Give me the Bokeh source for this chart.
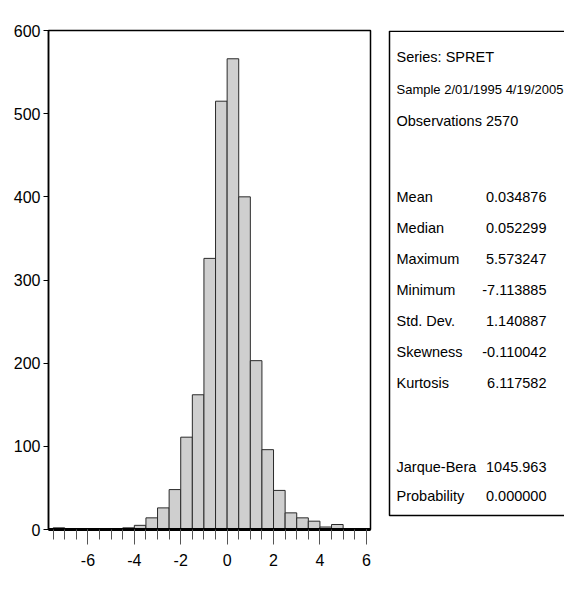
from bokeh.plotting import figure
from bokeh.layouts import row
from bokeh.models import Range1d, FixedTicker, ColumnDataSource
from bokeh.core.properties import value
from bokeh.embed import file_html
from bokeh.resources import INLINE

# ---- data ----
bin_left = [-7.5, -7.0, -6.5, -6.0, -5.5, -5.0, -4.5, -4.0, -3.5, -3.0, -2.5, -2.0, -1.5,
            -1.0, -0.5, 0.0, 0.5, 1.0, 1.5, 2.0, 2.5, 3.0, 3.5, 4.0, 4.5, 5.0, 5.5]
bin_width = 0.5
counts = [2, 0, 1, 0, 1, 0, 2, 5, 14, 26, 48, 111, 162,
          326, 515, 566, 400, 203, 96, 47, 20, 14, 10, 3, 6, 1, 1]
x_ticks = [-6, -4, -2, 0, 2, 4, 6]
x_tick_labels = ["-6", "-4", "-2", "0", "2", "4", "6"]
y_ticks = [0, 100, 200, 300, 400, 500, 600]

header_lines = ["Series: SPRET", "Sample 2/01/1995 4/19/2005", "Observations 2570"]
stat_names = ["Mean", "Median", "Maximum", "Minimum", "Std. Dev.", "Skewness", "Kurtosis"]
stat_values = ["0.034876", "0.052299", "5.573247", "-7.113885", "1.140887", "-0.110042", "6.117582"]
test_names = ["Jarque-Bera", "Probability"]
test_values = ["1045.963", "0.000000"]

FONT = "Liberation Sans"
AX_FS = "16px"
FS = "14.5px"

# ---- histogram ----
H = 601
W1 = 380
TOP, BOTTOM = 30, 72
p = figure(width=W1, height=H, output_backend="svg", toolbar_location=None,
           x_range=Range1d(-7.7, 6.18), y_range=Range1d(0, 600),
           min_border_left=48, min_border_right=10, min_border_top=TOP, min_border_bottom=BOTTOM)
src = ColumnDataSource(dict(left=bin_left,
                            right=[b + bin_width for b in bin_left],
                            top=counts,
                            bottom=[0] * len(counts)))
p.quad(left="left", right="right", top="top", bottom="bottom", source=src,
       fill_color="#cfcfcf", line_color="#2a2a2a", line_width=1)

p.xgrid.visible = False
p.ygrid.visible = False
p.background_fill_color = "white"
p.border_fill_color = "white"
p.outline_line_color = "black"
p.outline_line_width = 1.5

p.xaxis.ticker = FixedTicker(ticks=x_ticks, minor_ticks=[b for b in bin_left] + [6.0])
p.xaxis.major_label_overrides = dict(zip(x_ticks, x_tick_labels))
p.yaxis.ticker = FixedTicker(ticks=y_ticks, minor_ticks=[])
for ax in (p.xaxis, p.yaxis):
    ax.major_label_text_font = FONT
    ax.major_label_text_font_size = AX_FS
    ax.major_label_text_color = "black"
    ax.major_tick_in = 0
    ax.minor_tick_in = 0
    ax.axis_line_color = "black"
p.xaxis.axis_line_width = 3
p.xaxis.major_tick_out = 15
p.xaxis.minor_tick_out = 10
p.xaxis.major_tick_line_color = "#555555"
p.xaxis.minor_tick_line_color = "#555555"
p.xaxis.major_label_standoff = 9
p.yaxis.axis_line_width = 1.5
p.yaxis.major_tick_out = 5
p.yaxis.minor_tick_out = 0
p.yaxis.major_label_standoff = 3

# ---- statistics box (its frame is aligned with the histogram frame by the row) ----
W2 = 564 - W1
q = figure(width=W2, height=H, output_backend="svg", toolbar_location=None,
           x_range=Range1d(0, W2), y_range=Range1d(H - BOTTOM, TOP),
           x_axis_type=None, y_axis_type=None,
           min_border_left=0, min_border_right=0, min_border_top=TOP, min_border_bottom=BOTTOM)
q.xgrid.visible = False
q.ygrid.visible = False
q.outline_line_color = None
q.background_fill_color = "white"
q.border_fill_color = "white"

q.quad(left=[9], right=[W2 + 20], top=[30.8], bottom=[515],
       fill_color=None, line_color="black", line_width=1.5)

lab_x = 16
val_x = 166
head_y = [56, 89, 120]
stat_y = [196, 227, 258, 289, 320, 351, 382]
test_y = [466, 495]

q.text(x=[lab_x] * 3, y=head_y, text=header_lines, text_font=value(FONT),
       text_font_size=["14.5px", "13px", "14.5px"], text_baseline="middle", text_align="left",
       text_color="black")
q.text(x=[lab_x] * len(stat_names), y=stat_y, text=stat_names, text_font=value(FONT),
       text_font_size=FS, text_baseline="middle", text_align="left", text_color="black")
q.text(x=[val_x] * len(stat_values), y=stat_y, text=stat_values, text_font=value(FONT),
       text_font_size=FS, text_baseline="middle", text_align="right", text_color="black")
q.text(x=[lab_x] * 2, y=test_y, text=test_names, text_font=value(FONT),
       text_font_size=FS, text_baseline="middle", text_align="left", text_color="black")
q.text(x=[val_x] * 2, y=test_y, text=test_values, text_font=value(FONT),
       text_font_size=FS, text_baseline="middle", text_align="right", text_color="black")

layout = row(p, q, spacing=0)
open("out.html", "w").write(file_html(layout, INLINE))
